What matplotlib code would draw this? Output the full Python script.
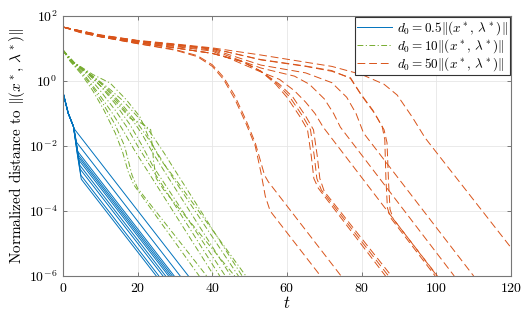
import numpy as np
import matplotlib
matplotlib.use('Agg')
import matplotlib.pyplot as plt

plt.rcParams['font.family'] = 'serif'
plt.rcParams['font.serif'] = ['cmr10']
plt.rcParams['mathtext.fontset'] = 'cm'
plt.rcParams['axes.formatter.use_mathtext'] = True

# iteration t and log10 of normalized distance
# d0 = 0.5 ||(x*,lambda*)||
blue_t = [
    [0, 1.4, 2.8, 3.0, 33.6],
    [0, 1.4, 2.8, 3.1, 3.6, 31.4],
    [0, 1.4, 2.8, 3.2, 3.9, 29.8],
    [0, 1.4, 2.8, 3.3, 4.1, 29.3],
    [0, 1.4, 2.8, 3.4, 4.2, 28.8],
    [0, 1.4, 2.8, 3.5, 4.3, 28.3],
    [0, 1.4, 2.8, 3.6, 4.5, 27.5],
    [0, 1.4, 2.8, 3.7, 4.6, 26.8],
    [0, 1.4, 2.8, 3.8, 4.8, 25.7],
    [0, 1.4, 2.8, 3.9, 4.9, 25.0],
]
blue_y = [
    [-0.35, -0.99, -1.4, -1.47, -6],
    [-0.35, -0.99, -1.4, -1.55, -1.88, -6],
    [-0.35, -0.99, -1.4, -1.65, -2.16, -6],
    [-0.35, -0.99, -1.4, -1.72, -2.27, -6],
    [-0.35, -0.99, -1.4, -1.8, -2.35, -6],
    [-0.35, -0.99, -1.4, -1.88, -2.44, -6],
    [-0.35, -0.99, -1.4, -1.98, -2.59, -6],
    [-0.35, -0.99, -1.4, -2.07, -2.71, -6],
    [-0.35, -0.99, -1.4, -2.2, -2.9, -6],
    [-0.35, -0.99, -1.4, -2.3, -3.02, -6],
]

# d0 = 10 ||(x*,lambda*)||
green_t = [
    [0, 2, 5, 8, 11, 14, 16, 17.5, 19, 36.5],
    [0, 2, 5, 8, 11, 14, 16.5, 18.5, 20, 38.5],
    [0, 2, 5, 9, 13, 16, 19, 22, 40.5],
    [0, 2, 6, 10, 14, 17, 20, 23, 42],
    [0, 2, 6, 10, 14, 18, 21, 24, 43.5],
    [0, 2, 6, 10, 14, 18, 21, 24, 27, 45],
    [0, 3, 7, 11, 15, 18, 21, 23.5, 24.3, 25, 27, 46],
    [0, 3, 7, 12, 16, 20, 23, 26, 29, 47],
    [0, 3, 8, 12, 16, 20, 23.5, 27, 30, 48],
    [0, 3, 8, 12.6, 17, 20.6, 22.9, 26, 30, 49],
]
green_y = [
    [0.95, 0.6, 0.2, -0.3, -0.9, -1.6, -2.2, -2.8, -3.2, -6],
    [0.95, 0.6, 0.25, -0.2, -0.75, -1.35, -2.0, -2.9, -3.3, -6],
    [0.95, 0.62, 0.3, -0.3, -0.95, -1.5, -2.1, -2.65, -6],
    [0.95, 0.62, 0.25, -0.3, -0.9, -1.4, -2.0, -2.55, -6],
    [0.95, 0.63, 0.3, -0.15, -0.7, -1.35, -1.95, -2.6, -6],
    [0.95, 0.63, 0.32, -0.05, -0.55, -1.1, -1.6, -2.2, -2.75, -6],
    [0.95, 0.55, 0.2, -0.25, -0.75, -1.15, -1.3, -1.5, -2.5, -3.0, -3.35, -6],
    [0.95, 0.55, 0.22, -0.25, -0.75, -1.3, -1.8, -2.35, -2.9, -6],
    [0.95, 0.57, 0.15, -0.2, -0.6, -1.1, -1.6, -2.2, -2.75, -6],
    [0.95, 0.57, 0.2, -0.06, -0.58, -1.1, -1.72, -2.4, -3.0, -6],
]

# d0 = 50 ||(x*,lambda*)||
orange_t = [
    [0, 5, 10, 20, 30, 36, 40, 43, 46, 49, 51.5, 53, 54.2, 55.5, 69],
    [0, 5, 10, 20, 30, 36, 40, 43, 46, 49, 51.5, 53, 54, 55, 74.5],
    [0, 10, 20, 30, 40, 48, 53, 57, 60, 63.5, 65.5, 66.5, 67.2, 68.4, 86.4],
    [0, 10, 20, 30, 40, 48, 53, 57.5, 60.8, 64.3, 66.3, 67.3, 68.0, 69.2, 87.2],
    [0, 10, 20, 30, 40, 48, 53, 58, 61.6, 65.1, 67.1, 68.1, 68.8, 70.0, 88.0],
    [0, 10, 20, 30, 40, 53, 58, 62, 65, 67.5, 69.7, 100.2],
    [0, 10, 20, 30, 40, 53, 62, 66, 70, 72.5, 74.3, 104.8],
    [0, 10, 20, 30, 40, 53, 65, 72, 76, 78.5, 80.5, 110],
    [0, 10, 20, 30, 40, 53, 65, 72, 77, 79.6, 83, 85.5, 86.2, 86.5, 86.9, 87.7, 99.7],
    [0, 10, 20, 30, 40, 53, 65, 72, 77, 80, 83.5, 86, 86.8, 87.2, 87.6, 88.5, 100.3],
    [0, 10, 20, 30, 40, 53, 72, 80, 86, 89.5, 93.5, 97, 101, 120.5],
]
orange_y = [
    [1.66, 1.48, 1.36, 1.15, 0.95, 0.75, 0.45, 0.05, -0.55, -1.3, -2.0, -2.8, -3.55, -4.0, -6],
    [1.66, 1.48, 1.36, 1.15, 0.97, 0.78, 0.5, 0.12, -0.45, -1.2, -1.9, -2.5, -2.9, -3.1, -6],
    [1.66, 1.37, 1.18, 1.02, 0.85, 0.6, 0.3, -0.1, -0.5, -1.1, -1.5, -2.3, -3.0, -3.3, -6],
    [1.66, 1.37, 1.18, 1.02, 0.85, 0.6, 0.3, -0.1, -0.5, -1.1, -1.5, -2.3, -3.0, -3.35, -6],
    [1.66, 1.37, 1.18, 1.02, 0.85, 0.6, 0.3, -0.1, -0.5, -1.1, -1.5, -2.3, -3.0, -3.4, -6],
    [1.66, 1.38, 1.2, 1.06, 0.92, 0.28, 0.05, -0.3, -0.65, -1.0, -1.42, -6],
    [1.66, 1.39, 1.22, 1.08, 0.95, 0.4, 0.15, -0.1, -0.55, -1.0, -1.42, -6],
    [1.66, 1.4, 1.22, 1.1, 0.98, 0.49, 0.25, -0.05, -0.5, -1.0, -1.6, -6],
    [1.66, 1.41, 1.24, 1.12, 1.0, 0.65, 0.45, 0.3, 0.1, -0.37, -0.9, -1.4, -1.8, -3.0, -3.9, -4.2, -6],
    [1.66, 1.41, 1.24, 1.12, 1.0, 0.66, 0.46, 0.32, 0.08, -0.45, -1.0, -1.5, -1.9, -3.1, -3.95, -4.25, -6],
    [1.66, 1.42, 1.25, 1.14, 1.02, 0.8, 0.45, 0.2, -0.1, -0.43, -1.1, -1.75, -2.34, -5.2],
]

blue = '#0072BD'
green = '#77AC30'
orange = '#D95319'
lw = 0.7

fig = plt.figure(figsize=(5.27, 3.17), dpi=100)
ax = fig.add_axes([0.1195, 0.1293, 0.8501, 0.8202])

for i in range(len(blue_t)):
    lab = r'$d_0 = 0.5\|(x^*,\,\lambda^*)\|$' if i == 0 else None
    ax.plot(blue_t[i], np.power(10.0, blue_y[i]), color=blue, lw=lw, label=lab)
for i in range(len(green_t)):
    lab = r'$d_0 = 10\|(x^*,\,\lambda^*)\|$' if i == 0 else None
    ax.plot(green_t[i], np.power(10.0, green_y[i]), color=green, lw=lw,
            dashes=[6, 2.5, 1.2, 2.5], label=lab)
for i in range(len(orange_t)):
    lab = r'$d_0 = 50\|(x^*,\,\lambda^*)\|$' if i == 0 else None
    ax.plot(orange_t[i], np.power(10.0, orange_y[i]), color=orange, lw=lw,
            dashes=[8, 4], label=lab)

ax.set_yscale('log')
ax.set_xlim(0, 120)
ax.set_ylim(1e-6, 1e2)
ax.set_xticks([0, 20, 40, 60, 80, 100, 120])
ax.set_yticks([1e-6, 1e-4, 1e-2, 1e0, 1e2])
ax.minorticks_off()
ax.grid(True, color='#e6e6e6', lw=0.6)
ax.set_axisbelow(True)
ax.tick_params(direction='in', top=True, right=True, length=3, width=0.6,
               color='#666666', labelsize=10, pad=4)
for s in ax.spines.values():
    s.set_color('#777777')
    s.set_linewidth(0.8)

ax.set_xlabel(r'$t$', fontsize=12, labelpad=0)
ax.set_ylabel(r'Normalized distance to $\|(x^*,\,\lambda^*)\|$', fontsize=11, labelpad=1)

leg = ax.legend(loc='upper right', fontsize=9.5, borderaxespad=0.05, fancybox=False,
                framealpha=1, handlelength=2.6, handletextpad=0.4, labelspacing=0.0,
                borderpad=0.2)
leg.get_frame().set_edgecolor('#333333')
leg.get_frame().set_linewidth(0.8)

fig.savefig('out.png', dpi=100)
